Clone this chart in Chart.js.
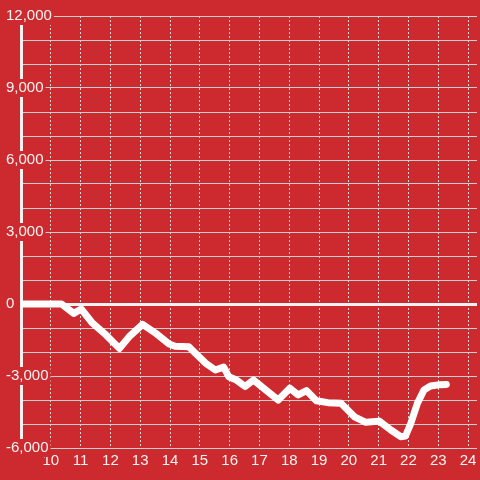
<!DOCTYPE html>
<html>
<head>
<meta charset="utf-8">
<script src="https://cdn.jsdelivr.net/npm/chart.js@4.4.1/dist/chart.umd.min.js"></script>
<style>
html,body{margin:0;padding:0;background:#cc2a2f;}
#wrap{width:480px;height:480px;}
</style>
</head>
<body>
<div id="wrap"><canvas id="c" width="480" height="480"></canvas></div>
<script>
// Data
const times  = [9.0, 10.36, 10.77, 11.02, 11.4, 11.86, 12.3, 12.63, 13.08, 13.5, 13.97, 14.17, 14.63, 14.8, 15.19, 15.52, 15.8, 15.97, 16.23, 16.52, 16.8, 17.13, 17.63, 18.02, 18.3, 18.58, 18.91, 19.3, 19.74, 20.19, 20.57, 21.02, 21.41, 21.74, 21.9, 22.08, 22.3, 22.52, 22.74, 23.07, 23.27];
const values = [0, 0, -390, -210, -800, -1300, -1850, -1360, -850, -1200, -1670, -1760, -1780, -1990, -2460, -2750, -2630, -3030, -3170, -3440, -3170, -3500, -4000, -3510, -3790, -3610, -4030, -4110, -4140, -4700, -4930, -4880, -5250, -5530, -5500, -4970, -4140, -3580, -3420, -3360, -3350];
const xTickHours = [9, 10, 11, 12, 13, 14, 15, 16, 17, 18, 19, 20, 21, 22, 23, 24];
const yLabelStep = 3000;

const BG = '#cc2a2f';
const points = times.map((t, i) => ({x: t, y: values[i]}));

const bgPlugin = {
  id: 'bg',
  beforeDraw(chart) {
    const ctx = chart.ctx;
    ctx.save();
    ctx.fillStyle = BG;
    ctx.fillRect(0, 0, chart.width, chart.height);
    ctx.restore();
  }
};

new Chart(document.getElementById('c'), {
  type: 'line',
  data: {
    datasets: [{
      data: points,
      borderColor: '#ffffff',
      borderWidth: 7,
      borderCapStyle: 'round',
      borderJoinStyle: 'round',
      pointRadius: 0,
      tension: 0,
      fill: false
    }]
  },
  options: {
    responsive: false,
    animation: false,
    events: [],
    layout: { padding: { top: 16, right: 0, bottom: 0, left: 0 } },
    plugins: { legend: { display: false }, tooltip: { enabled: false } },
    scales: {
      x: {
        type: 'linear',
        min: 9,
        max: 24.3,
        afterBuildTicks(scale) { scale.ticks = xTickHours.map(v => ({value: v})); },
        afterFit(scale) { scale.height = 32; },
        grid: {
          drawTicks: false,
          color: (ctx) => (ctx.tick && ctx.tick.value >= 10) ? '#d4d4d4' : 'rgba(0,0,0,0)',
          lineWidth: 1
        },
        border: { display: false, dash: [2, 2] },
        ticks: {
          autoSkip: false,
          maxRotation: 0,
          padding: 3.6,
          color: '#f4f4f4',
          font: { family: '"Liberation Sans", Arial, sans-serif', size: 15 },
          callback: (v) => v >= 10 ? String(v) : ''
        }
      },
      y: {
        type: 'linear',
        min: -6000,
        max: 12000,
        afterFit(scale) { scale.width = 21; },
        grid: {
          drawTicks: false,
          color: (ctx) => (ctx.tick && ctx.tick.value === 0) ? '#f2f2f2' : '#cfcfcf',
          lineWidth: (ctx) => (ctx.tick && ctx.tick.value === 0) ? 3 : 1
        },
        border: { display: true, color: '#f2f2f2', width: 3 },
        ticks: {
          stepSize: 1000,
          autoSkip: false,
          mirror: true,
          padding: -15,
          color: '#f4f4f4',
          font: { family: '"Liberation Sans", Arial, sans-serif', size: 15 },
          showLabelBackdrop: (ctx) => ctx.tick && ctx.tick.value % yLabelStep === 0,
          backdropColor: BG,
          backdropPadding: { top: 0, bottom: 0, left: 2, right: 2 },
          callback: (v) => v % yLabelStep === 0 ? v.toLocaleString('en-US') : ''
        }
      }
    }
  },
  plugins: [bgPlugin]
});
</script>
</body>
</html>
